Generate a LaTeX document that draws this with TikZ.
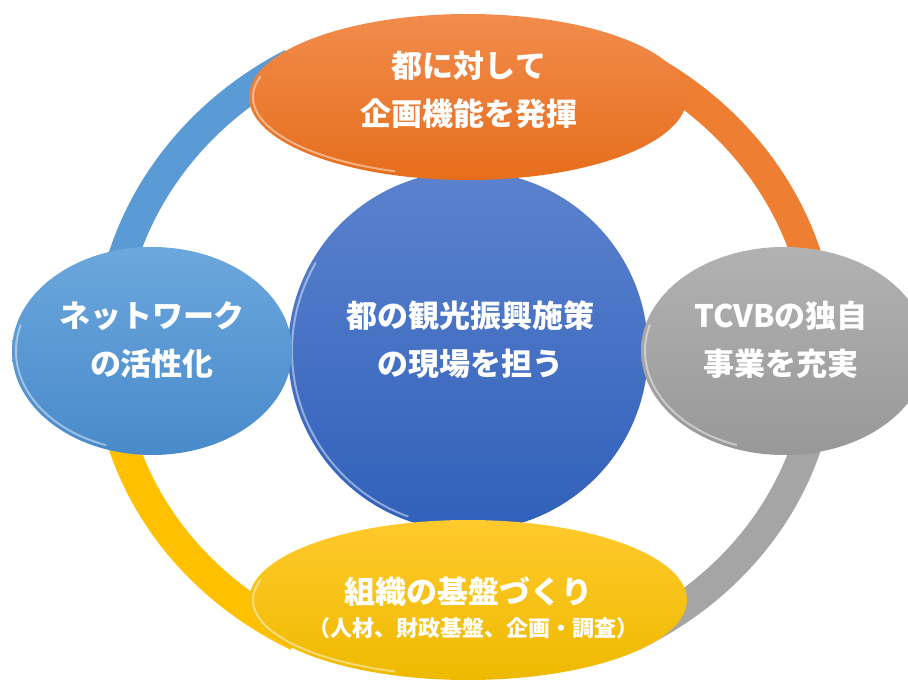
\documentclass[tikz,border=0pt]{standalone}
\usepackage{fontspec}
\setmainfont{Noto Sans CJK JP}
\usetikzlibrary{calc}
\definecolor{ringBlue}{HTML}{5B9BD5}
\definecolor{ringOrange}{HTML}{EE7E32}
\definecolor{ringGray}{HTML}{A5A5A5}
\definecolor{ringGold}{HTML}{FFC000}
\tikzset{every picture/.style={/utils/exec={\bfseries}}}
\tikzset{
  ring/.style={line width=30pt},
  rim/.style={draw=white, draw opacity=0.45, line width=2pt, line cap=round},
  bubbletext/.style={text=white, align=center, font=\fontsize{31}{48}\selectfont\bfseries},
  subtext/.style={text=white, font=\fontsize{22}{26}\selectfont\bfseries}
}

\begin{document}
\begin{tikzpicture}[x=1pt, y=1pt]
    \useasboundingbox (0, 0) rectangle (908, 680);
    \coordinate (o) at (465, 328);
    \draw [ring, ringBlue] (o) ++(119:357pt and 330pt) arc [start angle=119, end angle=180, x radius=357pt, y radius=330pt];
    \draw [ring, ringOrange] (o) ++(0:357pt and 330pt) arc [start angle=0, end angle=61, x radius=357pt, y radius=330pt];
    \draw [ring, ringGray] (o) ++(298:357pt and 322pt) arc [start angle=298, end angle=360, x radius=357pt, y radius=322pt];
    \draw [ring, ringGold] (o) ++(180:357pt and 322pt) arc [start angle=180, end angle=242, x radius=357pt, y radius=322pt];
    \draw [rim] (o) ++(5:328pt and 301pt) arc [start angle=5, end angle=58, x radius=328pt, y radius=301pt];
    \draw [rim] (o) ++(122:328pt and 301pt) arc [start angle=122, end angle=175, x radius=328pt, y radius=301pt];
    \draw [rim] (o) ++(185:328pt and 293pt) arc [start angle=185, end angle=240, x radius=328pt, y radius=293pt];
    \draw [rim] (o) ++(300:328pt and 293pt) arc [start angle=300, end angle=355, x radius=328pt, y radius=293pt];
    \shade [top color={rgb,255:red,92;green,130;blue,206}, bottom color={rgb,255:red,48;green,96;blue,186}] (468, 329) circle [radius=180pt];
    \draw [rim] (468, 329) ++(150:176pt) arc [start angle=150, end angle=250, radius=176pt];
    \shade [top color={rgb,255:red,108;green,167;blue,221}, bottom color={rgb,255:red,72;green,138;blue,202}] (152, 329) ellipse [x radius=140pt, y radius=104pt];
    \draw [rim] (152, 329) ++(165:136pt and 100pt) arc [start angle=165, end angle=250, x radius=136pt, y radius=100pt];
    \shade [top color={rgb,255:red,178;green,178;blue,178}, bottom color={rgb,255:red,152;green,152;blue,152}] (784, 329) ellipse [x radius=143pt, y radius=104pt];
    \draw [rim] (784, 329) ++(165:139pt and 100pt) arc [start angle=165, end angle=250, x radius=139pt, y radius=100pt];
    \shade [top color={rgb,255:red,242;green,140;blue,76}, bottom color={rgb,255:red,230;green,110;blue,28}] (468, 583) ellipse [x radius=219pt, y radius=83pt];
    \draw [rim] (468, 583) ++(165:215pt and 79pt) arc [start angle=165, end angle=250, x radius=215pt, y radius=79pt];
    \shade [top color={rgb,255:red,255;green,202;blue,44}, bottom color={rgb,255:red,238;green,186;blue,0}] (468, 80) ellipse [x radius=219pt, y radius=80pt];
    \draw [rim] (468, 80) ++(165:215pt and 76pt) arc [start angle=165, end angle=250, x radius=215pt, y radius=76pt];
    \node [bubbletext] (plan) at (469, 590) {都に対して\\企画機能を発揮};
    \node [bubbletext] (core) at (470, 340) {都の観光振興施策\\の現場を担う};
    \node [bubbletext] (network) at (152, 340) {ネットワーク\\の活性化};
    \node [bubbletext] (tcvb) at (781, 340) {TCVBの独自\\事業を充実};
    \node [bubbletext] (base) at (468, 88) {組織の基盤づくり};
    \node [subtext] (basesub) at (473, 52) {（人材、財政基盤、企画・調査）};
\end{tikzpicture}
\end{document}
